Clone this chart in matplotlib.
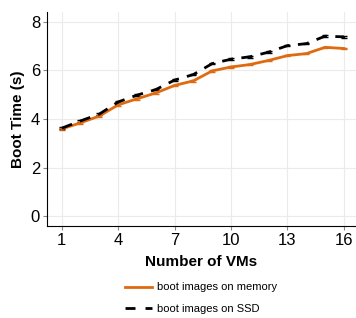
import numpy as np
import matplotlib
matplotlib.use("Agg")
import matplotlib.pyplot as plt
from matplotlib.lines import Line2D

plt.rcParams['font.family'] = ['Liberation Sans', 'DejaVu Sans']

# data
vms = [1, 2, 3, 4, 5, 6, 7, 8, 9, 10, 11, 12, 13, 14, 15, 16]
mem = [3.59, 3.84, 4.12, 4.58, 4.83, 5.07, 5.38, 5.57, 5.98, 6.14, 6.24, 6.41, 6.61, 6.69, 6.95, 6.90]
ssd = [3.62, 3.92, 4.20, 4.70, 4.98, 5.21, 5.60, 5.83, 6.28, 6.46, 6.56, 6.75, 7.02, 7.10, 7.41, 7.38]
mem_err = [0.03] * 16
ssd_err = [0.03] * 16
xticks = [1, 4, 7, 10, 13, 16]
yticks = [0, 2, 4, 6, 8]
orange = '#e06a10'

fig = plt.figure(figsize=(3.56, 3.18), dpi=100)
ax = fig.add_axes([0.132, 0.289, 0.868, 0.673])

ax.errorbar(vms, mem, yerr=mem_err, color=orange, lw=2, capsize=2,
            elinewidth=0.8, zorder=3)
ax.errorbar(vms, ssd, yerr=ssd_err, color='black', lw=2, ls=(0, (4, 3)),
            capsize=2, elinewidth=0.8, zorder=3)

ax.set_xlim(0.22, 16.64)
ax.set_ylim(-0.41, 8.4)
ax.set_xticks(xticks)
ax.set_yticks(yticks)
ax.tick_params(labelsize=12, length=3, color='#888888', pad=2)
ax.grid(True, color='#ebebeb', lw=0.8)
ax.set_axisbelow(True)
for s in ['top', 'right']:
    ax.spines[s].set_visible(False)
for s in ['left', 'bottom']:
    ax.spines[s].set_color('black')
    ax.spines[s].set_linewidth(0.8)

ax.set_xlabel('Number of VMs', fontsize=11, fontweight='bold', labelpad=5)
ax.set_ylabel('Boot Time (s)', fontsize=11, fontweight='bold', labelpad=4)

handles = [Line2D([], [], color=orange, lw=2),
           Line2D([], [], color='black', lw=2, ls=(0, (3.6, 3.6)))]
labels = ['boot images on memory', 'boot images on SSD']
fig.legend(handles, labels, loc='center', bbox_to_anchor=(0.565, 0.063), frameon=False,
           fontsize=8, handlelength=2.4, labelspacing=1.0, handletextpad=0.5)

fig.savefig('out.png', dpi=100)
